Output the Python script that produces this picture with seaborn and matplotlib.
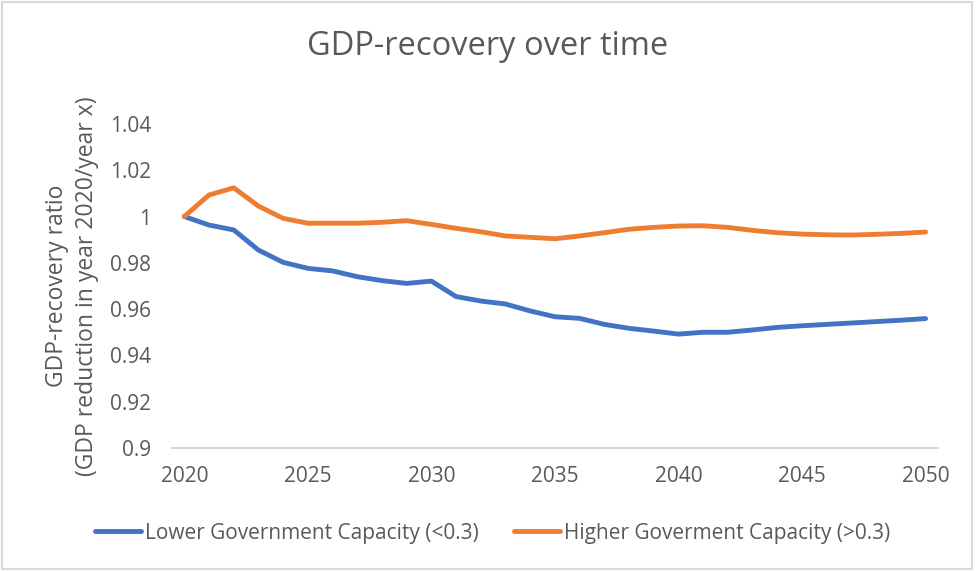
import matplotlib
matplotlib.use("Agg")
import matplotlib.pyplot as plt
import numpy as np
import pandas as pd
import seaborn as sns

years = list(range(2020, 2051))
lower_capacity = [1.0000, 0.9963, 0.9942, 0.9855, 0.9802, 0.9776, 0.9765, 0.9740,
                  0.9723, 0.9711, 0.9721, 0.9654, 0.9635, 0.9622, 0.9592, 0.9567,
                  0.9560, 0.9534, 0.9517, 0.9505, 0.9492, 0.9500, 0.9500, 0.9510,
                  0.9521, 0.9528, 0.9534, 0.9540, 0.9546, 0.9552, 0.9559]
higher_capacity = [1.0000, 1.0093, 1.0124, 1.0045, 0.9992, 0.9971, 0.9971, 0.9971,
                   0.9975, 0.9982, 0.9966, 0.9949, 0.9934, 0.9916, 0.9910, 0.9904,
                   0.9916, 0.9930, 0.9945, 0.9953, 0.9959, 0.9960, 0.9953, 0.9940,
                   0.9930, 0.9924, 0.9921, 0.9920, 0.9923, 0.9927, 0.9933]
series_names = ["Lower Government Capacity (<0.3)", "Higher Goverment Capacity (>0.3)"]
series_colors = ["#4472C4", "#ED7D31"]
y_ticks = [0.9, 0.92, 0.94, 0.96, 0.98, 1.0, 1.02, 1.04]
y_tick_labels = ["0.9", "0.92", "0.94", "0.96", "0.98", "1", "1.02", "1.04"]
x_ticks = [2020, 2025, 2030, 2035, 2040, 2045, 2050]

df = pd.DataFrame({
    "year": years * 2,
    "ratio": lower_capacity + higher_capacity,
    "group": [series_names[0]] * len(years) + [series_names[1]] * len(years),
})

sns.set_theme(style="white")
plt.rcParams["font.family"] = ["Open Sans", "DejaVu Sans"]
text_color = "#595959"

fig = plt.figure(figsize=(9.76, 5.71), dpi=100)
ax = fig.add_axes([0.1762, 0.2154, 0.7848, 0.5676])

sns.lineplot(data=df, x="year", y="ratio", hue="group", hue_order=series_names,
             palette=series_colors, linewidth=3.5, ax=ax, legend=False,
             solid_capstyle="round", solid_joinstyle="round")

ax.set_xlim(2019.5, 2050.5)
ax.set_ylim(0.9, 1.04)
ax.set_xticks(x_ticks)
ax.set_xticklabels([str(x) for x in x_ticks], fontsize=15, color=text_color)
ax.set_yticks(y_ticks)
ax.set_yticklabels(y_tick_labels, fontsize=15, color=text_color)
ax.tick_params(axis="both", length=0)
ax.tick_params(axis="x", pad=13)
ax.tick_params(axis="y", pad=15)
ax.set_xlabel("")
ax.set_ylabel("GDP-recovery ratio\n(GDP reduction in year 2020/year x)",
              fontsize=16.5, color=text_color, labelpad=8, linespacing=1.3)
for side in ["top", "right", "left"]:
    ax.spines[side].set_visible(False)
ax.spines["bottom"].set_color("#D9D9D9")
ax.spines["bottom"].set_linewidth(1.5)

fig.text(0.5, 1 - 55 / 571, "GDP-recovery over time", ha="center", va="baseline",
         fontsize=23.5, color=text_color)

handles = [plt.Line2D([0], [0], color=c, lw=3.5) for c in series_colors]
fig.legend(handles, series_names, loc="center", bbox_to_anchor=(0.505, 1 - 533 / 571),
           ncol=2, frameon=False, fontsize=15, handlelength=2.2, handletextpad=0.2,
           columnspacing=1.7, labelcolor=text_color)

# light grey chart border
border = plt.Rectangle((0.002, 0.003), 0.994, 0.994, transform=fig.transFigure,
                       fill=False, edgecolor="#D9D9D9", linewidth=1.5)
fig.add_artist(border)

fig.savefig("out.png", dpi=100)
